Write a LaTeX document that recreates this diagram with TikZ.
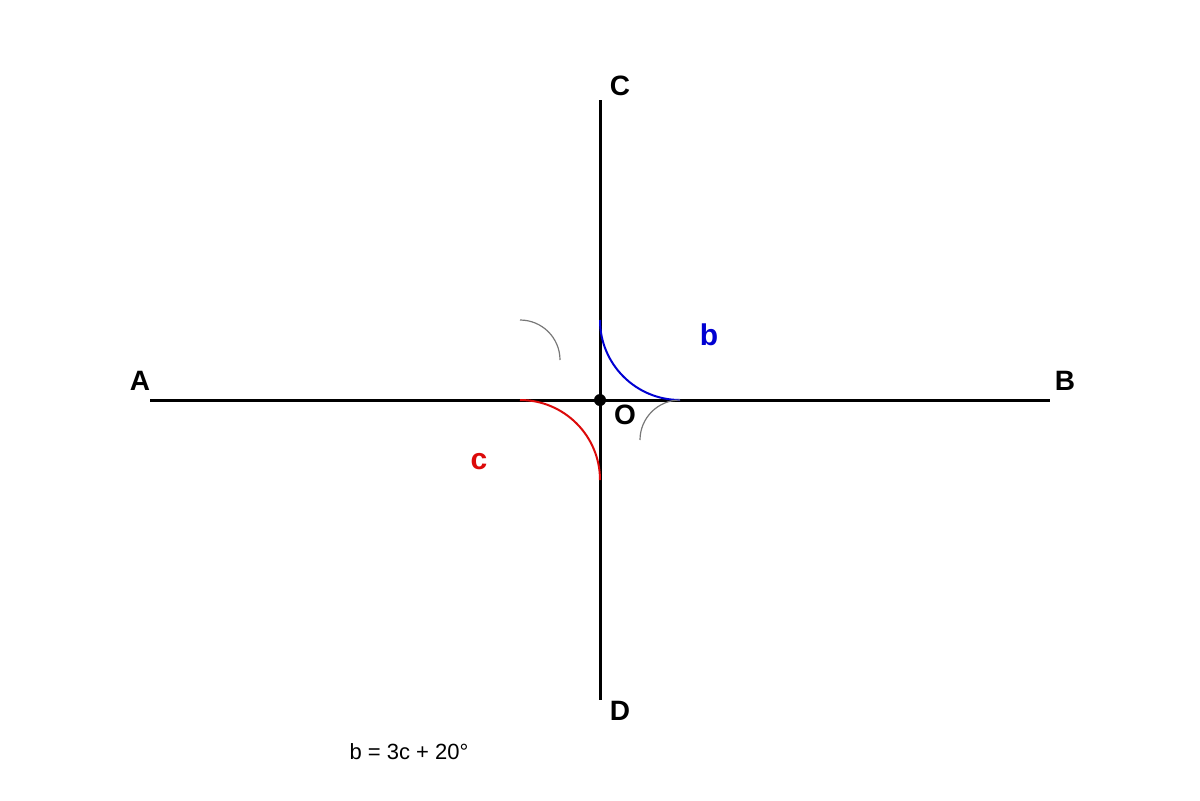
\documentclass[tikz,border=0pt]{standalone}
\usepackage{fontspec}
\setmainfont{Liberation Sans}
\definecolor{arcblue}{RGB}{0,0,210}
\definecolor{arcred}{RGB}{220,10,10}
\definecolor{arcgray}{RGB}{120,120,120}
\begin{document}
\begin{tikzpicture}[x=0.5pt,y=-0.5pt,
  axis/.style={line width=1.5pt,black},
  ptlabel/.style={font=\fontsize{14pt}{16pt}\selectfont\bfseries,inner sep=0pt},
  anglabel/.style={font=\fontsize{15pt}{17pt}\selectfont\bfseries,inner sep=0pt},
  bluearc/.style={line width=1pt,arcblue},
  redarc/.style={line width=1pt,arcred},
  grayarc/.style={line width=0.6pt,arcgray}]
\useasboundingbox (0,0) rectangle (1200,800);
\coordinate (a) at (150,400);
\coordinate (bb) at (1050,400);
\coordinate (c) at (600,100);
\coordinate (d) at (600,700);
\coordinate (o) at (600,400);
\draw[axis] (a) -- (bb);
\draw[axis] (c) -- (d);
\fill (o) circle (3pt);
% blue arc: center (680,320), r=80
\coordinate (bs) at (600,320);
\draw[bluearc] (bs) arc[start angle=180,end angle=90,radius=80];
% red arc: center (520,480)
\coordinate (rs) at (520,400);
\draw[redarc] (rs) arc[start angle=-90,end angle=0,radius=80];
% gray arcs
\coordinate (g1) at (520,320);
\draw[grayarc] (g1) arc[start angle=-90,end angle=0,radius=40];
\coordinate (g2) at (680,400);
\draw[grayarc] (g2) arc[start angle=-90,end angle=-180,radius=40];
\node[ptlabel] (la) at (140,381) {A};
\node[ptlabel] (lb) at (1065,381) {B};
\node[ptlabel] (lc) at (620,86) {C};
\node[ptlabel] (ld) at (620,711) {D};
\node[ptlabel] (lo) at (625,415) {O};
\node[anglabel,text=arcblue] (lbb) at (709,335) {b};
\node[anglabel,text=arcred] (lcc) at (479,462) {c};
\node[font=\fontsize{11pt}{13pt}\selectfont,inner sep=0pt] (eq) at (409,752) {b = 3c + 20°};
\end{tikzpicture}
\end{document}
